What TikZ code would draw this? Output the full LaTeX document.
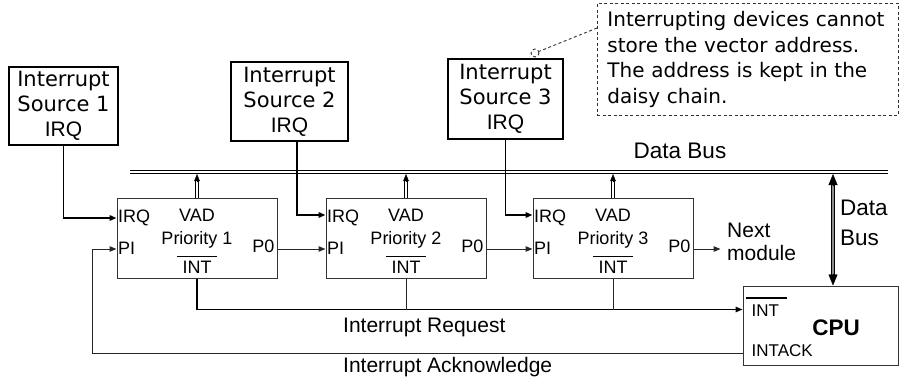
\documentclass[tikz,border=0pt]{standalone}
\usepackage{fontspec}
\setmainfont{Liberation Sans}
\newfontfamily\handfont{DejaVu Sans}
\newfontfamily\arialfont{Liberation Sans}
\usetikzlibrary{arrows.meta,calc}

\begin{document}
\begin{tikzpicture}[x=1pt,y=-1pt,
  srcbox/.style={draw, line width=1.3pt, align=center, inner sep=0pt,
    font=\handfont\fontsize{21}{25}\selectfont},
  modbox/.style={draw=black!80, line width=1pt, minimum width=160pt,
    minimum height=80pt, inner sep=0pt},
  lbl/.style={font=\fontsize{18}{20}\selectfont, inner sep=0pt},
  biglbl/.style={font=\fontsize{21}{24}\selectfont, inner sep=0pt},
  buslbl/.style={font=\fontsize{22.5}{30}\selectfont, inner sep=0pt},
  wire/.style={line width=1pt, draw=black!85},
  feed/.style={line width=1.8pt},
  tip/.style={-{Triangle[length=7pt,width=5.5pt]}},
  bar/.style={line width=1.8pt},
  shaft/.style={line width=0.8pt, double=white, double distance=2pt},
  callout/.style={draw=black!80, line width=0.9pt, dash pattern=on 3pt off 2.5pt}
  ]
\useasboundingbox (0,0) rectangle (899,377);

% interrupt sources
\node[srcbox, minimum width=109pt, minimum height=78pt] (s1) at (63.5,106)
  {Interrupt\\Source 1\\\arialfont IRQ};
\node[srcbox, minimum width=117pt, minimum height=79pt] (s2) at (289.5,101.5)
  {Interrupt\\Source 2\\\arialfont IRQ};
\node[srcbox, minimum width=115pt, minimum height=80pt] (s3) at (505.5,99)
  {Interrupt\\Source 3\\\arialfont IRQ};

% note on the daisy chain
\node[callout, anchor=north west, minimum width=301pt, minimum height=112pt,
  text width=281pt, align=left, inner xsep=10pt,
  font=\handfont\fontsize{20}{25.5}\selectfont] (note) at (597,3)
  {Interrupting devices cannot\\store the vector address.\\The address is kept in the\\daisy chain.};
\node[callout, circle, minimum size=8pt, inner sep=0pt] (dot) at (535,53) {};
\coordinate (notept) at ($(note.north west)+(0,25)$);
\draw[callout] (notept) -- (dot);

% data bus
\coordinate (busL) at (130,172);
\coordinate (busR) at (888,172);
\coordinate (busB) at (0,174);
\draw[line width=1.2pt, double=white, double distance=1.8pt] (busL) -- (busR);
\node[buslbl, anchor=base] (buslabel) at (680,158) {Data Bus};

% priority modules
\foreach \i/\cx in {1/197,2/406,3/613}{
  \node[modbox] (m\i) at (\cx,238) {};
  \node[lbl, anchor=base west] (irq\i) at ($(m\i.north west)+(1.5,25)$) {IRQ};
  \node[lbl, anchor=base west] (pi\i) at ($(m\i.north west)+(1.5,57)$) {PI};
  \node[lbl, anchor=base] (vad\i) at ($(m\i.north)+(0,24)$) {VAD};
  \node[lbl, anchor=base] (pr\i) at ($(m\i.north)+(0,47)$) {Priority \i};
  \node[lbl, anchor=base] (int\i) at ($(m\i.south)+(0,-5)$) {INT};
  \node[lbl, anchor=base east] (po\i) at ($(m\i.north east)+(-3,55)$) {P0};
  \draw[bar] ($(int\i.north)+(-20,-4.5)$) -- ++(40,0);
  % vector address onto the bus
  \draw[shaft] (m\i.north) -- ($(m\i.north |- busB)+(0,6)$);
  \draw[tip] ($(m\i.north |- busB)+(0,8)$) -- (m\i.north |- busB);
}

% CPU
\node[draw=black!80, line width=1pt, minimum width=155pt, minimum height=79pt,
  inner sep=0pt] (cpu) at (820.5,325.5) {};
\node[font=\fontsize{22.5}{24}\selectfont\bfseries, anchor=base, inner sep=0pt]
  (cpulbl) at (836,335) {CPU};
\node[lbl, font=\fontsize{17}{20}\selectfont, anchor=base west] (cint) at ($(cpu.north west)+(9,31)$) {INT};
\draw[bar] ($(cint.north west)+(-6,-7)$) -- ($(cint.north east)+(8,-7)$);
\node[lbl, font=\fontsize{17}{20}\selectfont, anchor=base west] (cack) at ($(cpu.north west)+(9,71)$) {INTACK};

% CPU data bus link
\coordinate (dbtop) at ($(cpu.north)+(12.5,0)$);
\draw[line width=0.8pt, double=black!45, double distance=2.4pt]
  ($(dbtop |- busB)+(0,9)$) -- ($(dbtop)+(0,-9)$);
\draw[-{Triangle[length=11pt,width=9pt]}] ($(dbtop |- busB)+(0,12)$) -- (dbtop |- busB);
\draw[-{Triangle[length=11pt,width=9pt]}] ($(dbtop)+(0,-12)$) -- (dbtop);
\node[buslbl, anchor=base west] (dbl1) at (840,215) {Data};
\node[buslbl, anchor=base west] (dbl2) at (840,245) {Bus};

% interrupt request lines from the sources
\draw[feed, tip] (s1.south) |- ($(m1.west)+(0,-20)$);
\draw[feed, tip] ([xshift=7.5pt]s2.south) |- ($(m2.west)+(0,-23)$);
\draw[feed, tip] (s3.south) |- ($(m3.west)+(0,-23)$);

% priority chain
\draw[wire, tip] ($(m1.east)+(0,11)$) -- ($(m2.west)+(0,11)$);
\draw[wire, tip] ($(m2.east)+(0,11)$) -- ($(m3.west)+(0,11)$);
\node[biglbl, anchor=base west] (next1) at (727,237) {Next};
\node[biglbl, anchor=base west] (next2) at (727,260) {module};
\draw[wire, tip] ($(m3.east)+(0,11)$) -- ($(m3.east)+(27,11)$);

% shared interrupt request line
\coordinate (req) at ($(cpu.north west)+(0,24)$);
\draw[line width=1.4pt, tip] (m1.south) |- (req);
\draw[wire] (m2.south) -- (m2.south |- req);
\draw[wire] (m3.south) -- (m3.south |- req);
\node[biglbl, anchor=base west] (reqlbl) at (343,332) {Interrupt Request};

% acknowledge line back to the first module
\coordinate (ack) at ($(cpu.south west)+(0,-12)$);
\coordinate (ackturn) at ($(m1.west)+(-24,11)$);
\draw[wire, tip] (ack) -| (ackturn) -- ($(m1.west)+(0,11)$);
\node[biglbl, anchor=base west] (acklbl) at (343,372) {Interrupt Acknowledge};
\end{tikzpicture}
\end{document}
